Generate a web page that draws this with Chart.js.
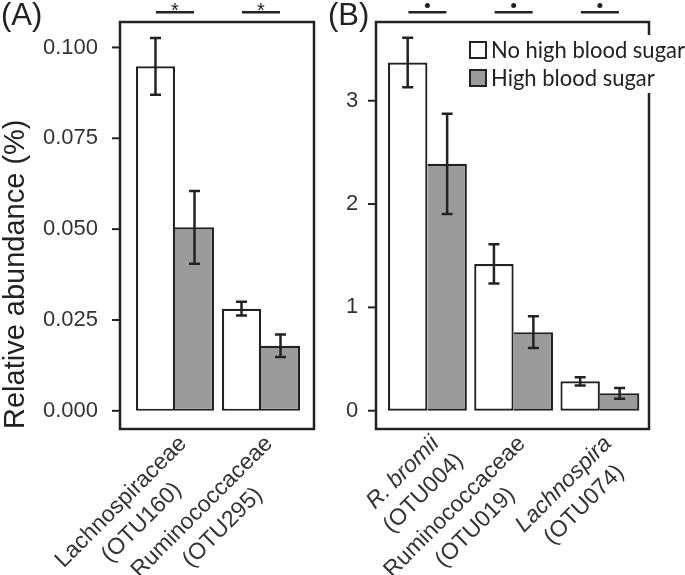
<!DOCTYPE html>
<html>
<head>
<meta charset="utf-8">
<script src="https://cdn.jsdelivr.net/npm/chart.js@4"></script>
<style>
  body { margin: 0; background: #fff; }
  #wrap { position: relative; width: 685px; height: 575px; }
  canvas { position: absolute; top: 0; }
</style>
</head>
<body>
<div id="wrap">
  <canvas id="chartA" width="325" height="575" style="left:0px"></canvas>
  <canvas id="chartB" width="360" height="575" style="left:325px"></canvas>
</div>
<script>
// panel A values (relative abundance, %)
const labelsA = [["Lachnospiraceae", "(OTU160)"], ["Ruminococcaceae", "(OTU295)"]];
const italicA = [false, false];
const noHighA = [0.0948, 0.0281];
const noHighErrA = [0.0078, 0.0019];
const highA = [0.0505, 0.0179];
const highErrA = [0.0100, 0.0031];
const ticksA = [0, 0.025, 0.05, 0.075, 0.1];

// panel B values
const labelsB = [["R. bromii", "(OTU004)"], ["Ruminococcaceae", "(OTU019)"], ["Lachnospira", "(OTU074)"]];
const italicB = [true, false, true];
const noHighB = [3.37, 1.42, 0.285];
const noHighErrB = [0.24, 0.19, 0.04];
const highB = [2.39, 0.76, 0.168];
const highErrB = [0.485, 0.153, 0.052];
const ticksB = [0, 1, 2, 3];

const seriesNames = ["No high blood sugar", "High blood sugar"];
const seriesColors = ["#ffffff", "#9b9b9b"];

const ink = "#222222";
const tickFont = "'Liberation Sans', Arial, sans-serif";

// draws frame, error bars, tick marks, rotated labels, significance marks and legend
const panelPlugin = {
  id: "panel",
  afterDatasetsDraw(chart) {
    const o = chart.options.plugins.panel;
    const ctx = chart.ctx;
    const area = chart.chartArea;
    const xs = chart.scales.x;
    const ys = chart.scales.y;
    ctx.save();
    ctx.strokeStyle = ink;
    ctx.fillStyle = ink;

    // error bars
    ctx.lineWidth = 2.5;
    chart.data.datasets.forEach((ds, i) => {
      chart.getDatasetMeta(i).data.forEach((bar, j) => {
        const top = ys.getPixelForValue(ds.data[j] + ds.errors[j]);
        const bot = ys.getPixelForValue(ds.data[j] - ds.errors[j]);
        const cap = 5.5;
        ctx.beginPath();
        ctx.moveTo(bar.x, top); ctx.lineTo(bar.x, bot);
        ctx.moveTo(bar.x - cap, top); ctx.lineTo(bar.x + cap, top);
        ctx.moveTo(bar.x - cap, bot); ctx.lineTo(bar.x + cap, bot);
        ctx.stroke();
      });
    });

    // frame round the plot
    const fl = area.left + o.frameLeft;
    const fr = area.right + o.frameRight;
    ctx.lineWidth = 2.5;
    ctx.strokeRect(fl, area.top, fr - fl, area.bottom - area.top);

    // y tick marks
    ctx.lineWidth = 2;
    ys.ticks.forEach(t => {
      const py = ys.getPixelForValue(t.value);
      ctx.beginPath();
      ctx.moveTo(fl - 8, py); ctx.lineTo(fl, py);
      ctx.stroke();
    });

    // significance bars above each group
    chart.data.labels.forEach((lab, i) => {
      const cx = xs.getPixelForValue(i);
      ctx.lineWidth = 2.5;
      ctx.beginPath();
      ctx.moveTo(cx - 19, 12.3); ctx.lineTo(cx + 19, 12.3);
      ctx.stroke();
      if (o.sigMark === "*") {
        ctx.font = "20px " + tickFont;
        ctx.textAlign = "center";
        ctx.textBaseline = "alphabetic";
        ctx.fillText("*", cx, 16.5);
      } else {
        ctx.beginPath();
        ctx.arc(cx, 5.5, 2.5, 0, Math.PI * 2);
        ctx.fill();
      }
    });

    // rotated category labels, lines centred on each other,
    // end of the first line sits under the group
    ctx.fillStyle = "#333";
    chart.data.labels.forEach((lines, i) => {
      const cx = xs.getPixelForValue(i);
      ctx.save();
      ctx.translate(cx + o.labelDx, o.labelY);
      ctx.rotate(-Math.PI / 4);
      ctx.font = (o.italic[i] ? "italic " : "") + "23px " + tickFont;
      const w1 = ctx.measureText(lines[0]).width;
      ctx.textAlign = "center";
      ctx.textBaseline = "top";
      lines.forEach((s, k) => {
        ctx.font = (o.italic[i] && k === 0 ? "italic " : "") + "23px " + tickFont;
        ctx.fillText(s, -w1 / 2, k * 29);
      });
      ctx.restore();
    });

    // panel letter
    ctx.fillStyle = ink;
    ctx.font = "31px " + tickFont;
    ctx.textAlign = "left";
    ctx.textBaseline = "alphabetic";
    ctx.fillText(o.letter, o.letterX, 25);

    // legend box (covers part of the frame)
    if (o.legend) {
      const lx = o.legend.x, ly = o.legend.y;
      ctx.fillStyle = "#fff";
      ctx.fillRect(lx - 3, 35, chart.width - lx + 3, 58);
      ctx.font = "23px Lato, 'Open Sans', sans-serif";
      // the original legend text is set a bit wide: squeeze/stretch the first entry to 194px
      const sx = 194 / ctx.measureText(chart.data.datasets[0].label).width;
      chart.data.datasets.forEach((ds, i) => {
        const ry = ly + i * 28;
        ctx.fillStyle = ds.backgroundColor;
        ctx.fillRect(lx, ry - 8, 16, 16);
        ctx.lineWidth = 2;
        ctx.strokeStyle = ink;
        ctx.strokeRect(lx, ry - 8, 16, 16);
        ctx.save();
        ctx.translate(lx + 21, ry + 1);
        ctx.scale(sx, 1);
        ctx.fillStyle = ink;
        ctx.textBaseline = "middle";
        ctx.fillText(ds.label, 0, 0);
        ctx.restore();
      });
    }
    ctx.restore();
  }
};

function makePanel(id, labels, italic, noHigh, noHighErr, high, highErr, yTicks, yMin, yMax, yWidth, tickLen, padRight, extra) {
  const showTitle = extra.title != null;
  return new Chart(document.getElementById(id), {
    type: "bar",
    data: {
      labels: labels,
      datasets: [{
        label: seriesNames[0],
        data: noHigh,
        errors: noHighErr,
        backgroundColor: seriesColors[0],
        borderColor: ink,
        borderWidth: 2.2,
        borderSkipped: false
      }, {
        label: seriesNames[1],
        data: high,
        errors: highErr,
        backgroundColor: seriesColors[1],
        borderColor: ink,
        borderWidth: {top: 2.2, right: 2.2, bottom: 2.2, left: 0},
        borderSkipped: false
      }]
    },
    options: {
      responsive: false,
      animation: false,
      devicePixelRatio: 1,
      layout: {padding: {left: 0, right: padRight, top: 22, bottom: 146}},
      categoryPercentage: extra.catPct,
      barPercentage: 1,
      scales: {
        x: {display: false},
        y: {
          min: yMin,
          max: yMax,
          // grid lines hidden; tickLength only pushes the labels away from the axis
          grid: {display: false, tickLength: tickLen},
          border: {display: false},
          afterBuildTicks: scale => { scale.ticks = yTicks.map(v => ({value: v})); },
          afterFit: scale => { scale.width = yWidth; },
          ticks: {
            padding: 0,
            color: "#333",
            font: {family: tickFont, size: 22},
            callback: extra.fmt
          },
          title: {
            display: showTitle,
            text: extra.title || "",
            align: "start",
            color: ink,
            font: {family: tickFont, size: 29},
            padding: {top: -1, bottom: 0}
          }
        }
      },
      plugins: {
        legend: {display: false},
        tooltip: {enabled: false},
        panel: {
          frameLeft: extra.frameLeft,
          frameRight: extra.frameRight,
          sigMark: extra.sigMark,
          labelDx: 0,
          labelY: 432,
          italic: italic,
          letter: extra.letter,
          letterX: extra.letterX,
          legend: extra.legend
        }
      }
    },
    plugins: [panelPlugin]
  });
}

makePanel("chartA", labelsA, italicA, noHighA, noHighErrA, highA, highErrA, ticksA, -0.005, 0.107, 132, 34, 21, {
  title: "Relative abundance (%)",
  fmt: v => v.toFixed(3),
  catPct: 0.907,
  frameLeft: -12, frameRight: 10,
  sigMark: "*",
  letter: "(A)", letterX: 1,
  legend: null
});

makePanel("chartB", labelsB, italicB, noHighB, noHighErrB, highB, highErrB, ticksB, -0.177, 3.762, 59.3, 26, 42, {
  title: null,
  fmt: v => String(v),
  catPct: 0.915,
  frameLeft: -8.3, frameRight: 6,
  sigMark: "dot",
  letter: "(B)", letterX: 3,
  legend: {x: 145, y: 50}
});
</script>
</body>
</html>
